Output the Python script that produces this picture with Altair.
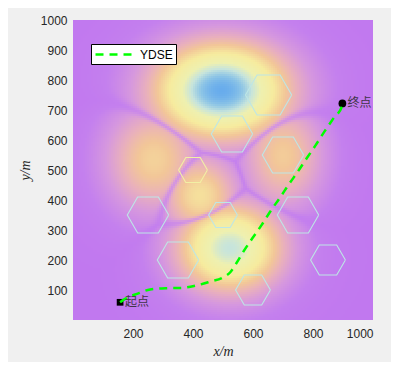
import altair as alt
import numpy as np
import pandas as pd

# ---- terrain peaks ----
peak_x = [495, 523, 270, 423, 700]
peak_y = [765, 240, 535, 415, 548]
peak_sx = [190, 150, 135, 110, 115]
peak_sy = [135, 125, 150, 115, 150]
peak_h = [1.0, 0.87, 0.57, 0.62, 0.55]

# colour map of the terrain
cmap_stops = [0.0, 0.12, 0.28, 0.42, 0.53, 0.66, 0.79, 0.87, 0.94, 1.0]
cmap_colors = ["#c178ef", "#c480ee", "#d698de", "#e9b0bc", "#f2c698",
               "#f6eb9e", "#eef0b0", "#c6e4dc", "#8cc4e6", "#68acec"]

# ---- hexagonal obstacles ----
hex_x = [652, 530, 700, 400, 250, 500, 750, 350, 850, 600]
hex_y = [750, 620, 550, 500, 350, 350, 350, 200, 200, 100]
hex_r = [77, 69, 69, 48, 69, 48, 69, 69, 58, 58]
hex_kind = ["c", "c", "c", "y", "c", "c", "c", "c", "c", "c"]

# ---- path ----
path_x = [157, 168, 218, 257, 309, 362, 407, 457, 500, 525, 545, 568, 599, 629,
          657, 690, 718, 749, 779, 809, 838, 868, 896, 898]
path_y = [59, 67, 89, 102, 106, 107, 114, 128, 142, 160, 190, 228, 274, 317,
          361, 408, 450, 494, 539, 583, 628, 672, 711, 722]

start_pt = (157, 59)
end_pt = (898, 722)
start_label = "起点"
end_label = "终点"
series_name = "YDSE"

x_ticks = [200, 400, 600, 800, 1000]
y_ticks = [100, 200, 300, 400, 500, 600, 700, 800, 900, 1000]

# ---- build terrain grid ----
N = 150
step = 1000 / N
cs = (np.arange(N) + 0.5) * step
GX, GY = np.meshgrid(cs, cs)
G = []
for cx, cy, sx, sy, h in zip(peak_x, peak_y, peak_sx, peak_sy, peak_h):
    G.append(h * np.exp(-((GX - cx) ** 2 / (2 * sx ** 2) + (GY - cy) ** 2 / (2 * sy ** 2))))
G = np.sort(np.array(G), axis=0)
m1 = G[-1]
m2 = G[-2]
V = m1 - 0.42 * m2 * np.exp(-((m1 - m2) / 0.05) ** 2)
half = step / 2
grid = pd.DataFrame({
    "x1": np.round(GX.ravel() - half, 2),
    "x2": np.round(GX.ravel() + half, 2),
    "y1": np.round(GY.ravel() - half, 2),
    "y2": np.round(GY.ravel() + half, 2),
    "v": np.round(V.ravel(), 3),
})

# hexagon vertices
rows = []
for i, (cx, cy, r, k) in enumerate(zip(hex_x, hex_y, hex_r, hex_kind)):
    for j in range(7):
        a = np.pi / 3 * j
        rows.append({"hid": i, "ord": j, "kind": k,
                     "hx": cx + r * np.cos(a), "hy": cy + r * np.sin(a)})
hexdf = pd.DataFrame(rows)

pathdf = pd.DataFrame({"px": path_x, "py": path_y, "i": range(len(path_x)),
                       "s": [series_name] * len(path_x)})
startdf = pd.DataFrame({"mx": [start_pt[0]], "my": [start_pt[1]], "t": [start_label]})
enddf = pd.DataFrame({"mx": [end_pt[0]], "my": [end_pt[1]], "t": [end_label]})

xs = alt.Scale(domain=[0, 1000], nice=False, zero=False)
ys = alt.Scale(domain=[0, 1000], nice=False, zero=False)

common_axis = dict(labelFont="Liberation Sans", labelFontSize=12, labelColor="#262626",
                   ticks=False, tickSize=0, domain=False, grid=False,
                   labelOverlap=False, format="d",
                   titleFont="Liberation Serif", titleFontStyle="italic",
                   titleFontWeight="normal", titleFontSize=14, titleColor="#262626")
x_axis = alt.Axis(values=x_ticks, title="x/m", labelPadding=8, titlePadding=5, **common_axis)
y_axis = alt.Axis(values=y_ticks, title="y/m", labelPadding=6, titlePadding=8, **common_axis)

heat = alt.Chart(grid).mark_rect(clip=True, strokeWidth=0).encode(
    x=alt.X("x1:Q", scale=xs, axis=x_axis),
    x2="x2:Q",
    y=alt.Y("y1:Q", scale=ys, axis=y_axis),
    y2="y2:Q",
    color=alt.Color("v:Q", scale=alt.Scale(domain=cmap_stops, range=cmap_colors,
                                           interpolate="rgb", clamp=True),
                    legend=None),
)

hex_c = alt.Chart(hexdf).transform_filter("datum.kind == 'c'").mark_line(
    color="#bde6e6", strokeWidth=1.1).encode(
    x=alt.X("hx:Q", scale=xs, axis=x_axis), y=alt.Y("hy:Q", scale=ys, axis=y_axis),
    detail="hid:N", order="ord:Q")
hex_y = alt.Chart(hexdf).transform_filter("datum.kind == 'y'").mark_line(
    color="#f2f0a4", strokeWidth=1.1).encode(
    x=alt.X("hx:Q", scale=xs, axis=x_axis), y=alt.Y("hy:Q", scale=ys, axis=y_axis),
    detail="hid:N", order="ord:Q")

start_m = alt.Chart(startdf).mark_point(shape="square", filled=True, color="black",
                                        size=45, opacity=1).encode(
    x=alt.X("mx:Q", scale=xs, axis=x_axis), y=alt.Y("my:Q", scale=ys, axis=y_axis))
end_m = alt.Chart(enddf).mark_circle(color="black", size=60, opacity=1).encode(
    x=alt.X("mx:Q", scale=xs, axis=x_axis), y=alt.Y("my:Q", scale=ys, axis=y_axis))

path = alt.Chart(pathdf).mark_line(strokeWidth=2.5, strokeDash=[8, 6],
                                   interpolate="monotone").encode(
    x=alt.X("px:Q", scale=xs, axis=x_axis), y=alt.Y("py:Q", scale=ys, axis=y_axis),
    order="i:Q",
    stroke=alt.Stroke("s:N", scale=alt.Scale(domain=[series_name], range=["#00ff00"]),
                      legend=alt.Legend(title=None, orient="none", legendX=18, legendY=24,
                                        fillColor="white", strokeColor="black",
                                        padding=3, symbolType="M-1,0H5.5",
                                        symbolSize=144, symbolStrokeWidth=2.5,
                                        symbolDash=[8, 6], labelFont="Liberation Sans",
                                        labelFontSize=12, labelColor="black",
                                        labelOffset=31, cornerRadius=0)),
)

txt_kw = dict(align="left", baseline="middle", font="Noto Sans CJK SC",
              fontSize=12, color="#2a2a2a", opacity=0.85, dx=5)
start_t = alt.Chart(startdf).mark_text(**txt_kw).encode(
    x=alt.X("mx:Q", scale=xs, axis=x_axis), y=alt.Y("my:Q", scale=ys, axis=y_axis), text="t:N")
end_t = alt.Chart(enddf).mark_text(**txt_kw).encode(
    x=alt.X("mx:Q", scale=xs, axis=x_axis), y=alt.Y("my:Q", scale=ys, axis=y_axis), text="t:N")

chart = alt.layer(heat, hex_c, hex_y, start_m, end_m, path, start_t, end_t).properties(
    width=300, height=300,
    autosize=alt.AutoSizeParams(type="none"),
    padding={"left": 65, "top": 12, "right": 18, "bottom": 42},
    background="#f0f0f0",
).configure_view(stroke=None).configure_axis(labelOverlap=False)

chart.save("out.html", embed_options={"renderer": "svg", "actions": False})
